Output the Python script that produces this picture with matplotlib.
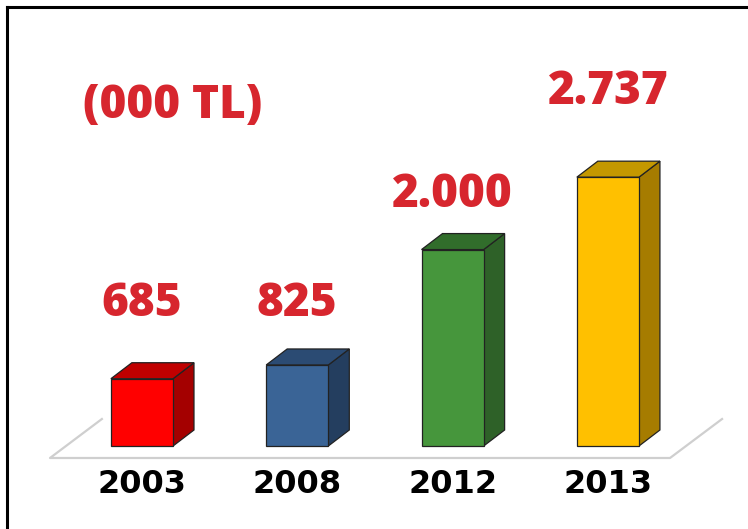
import numpy as np
import matplotlib.pyplot as plt

# Datos del gráfico (miles de TL por año)
anios = ["2003", "2008", "2012", "2013"]
valores = [685, 825, 2000, 2737]
etiquetas = ["685", "825", "2.000", "2.737"]

# Colores de cada barra: frente, lado y tapa
colores_frente = ["#ff0000", "#3a6496", "#46963c", "#ffc000"]
colores_lado = ["#a40000", "#243e5f", "#2e6128", "#a67c00"]
colores_tapa = ["#c00000", "#2b4b73", "#316d2b", "#c49800"]

# Posición vertical de las etiquetas rojas (en unidades de datos)
altura_etiqueta = [1450, 1450, 2560, 3600]

x = np.arange(len(anios))
ancho = 0.40
dx = 0.135  # profundidad en x
dy = 163  # profundidad en y

fig = plt.figure(figsize=(7.48, 5.29), dpi=100)
ax = plt.axes([0, 0, 1, 1])

# Piso del gráfico (líneas grises)
plt.plot([-0.258, -0.592, 3.40, 3.735], [275, -122, -122, 275], color="#cfcfcf", lw=1.6, zorder=1)

# Barras con efecto 3D
plt.bar(x, valores, width=ancho, color=colores_frente, edgecolor="#222222", linewidth=0.9, zorder=3)
for i, v in enumerate(valores):
    izq = x[i] - ancho / 2
    der = x[i] + ancho / 2
    plt.fill([der, der + dx, der + dx, der], [0, dy, v + dy, v], color=colores_lado[i], ec="#222222", lw=0.9, zorder=2)
    plt.fill([izq, izq + dx, der + dx, der], [v, v + dy, v + dy, v], color=colores_tapa[i], ec="#222222", lw=0.9, zorder=2)
    plt.text(x[i], altura_etiqueta[i], etiquetas[i], ha="center", va="center", color="#d7262e",
             fontsize=33, fontweight=800, family="Open Sans")
    plt.text(x[i], -390, anios[i], ha="center", va="center", color="black", fontsize=23, fontweight="bold")

plt.text(0.20, 3460, "(000 TL)", ha="center", va="center", color="#d7262e", fontsize=33,
         fontweight=800, family="Open Sans")

plt.xlim(-0.914, 3.902)
plt.ylim(-845, 4541)
plt.axis("off")

# Marco negro
fig.add_artist(plt.Line2D([0.0100, 0.0100], [0, 0.986], color="black", lw=2.2, transform=fig.transFigure))
fig.add_artist(plt.Line2D([0.0100, 1.0], [0.986, 0.986], color="black", lw=2.2, transform=fig.transFigure))

plt.savefig("out.png", dpi=100)
